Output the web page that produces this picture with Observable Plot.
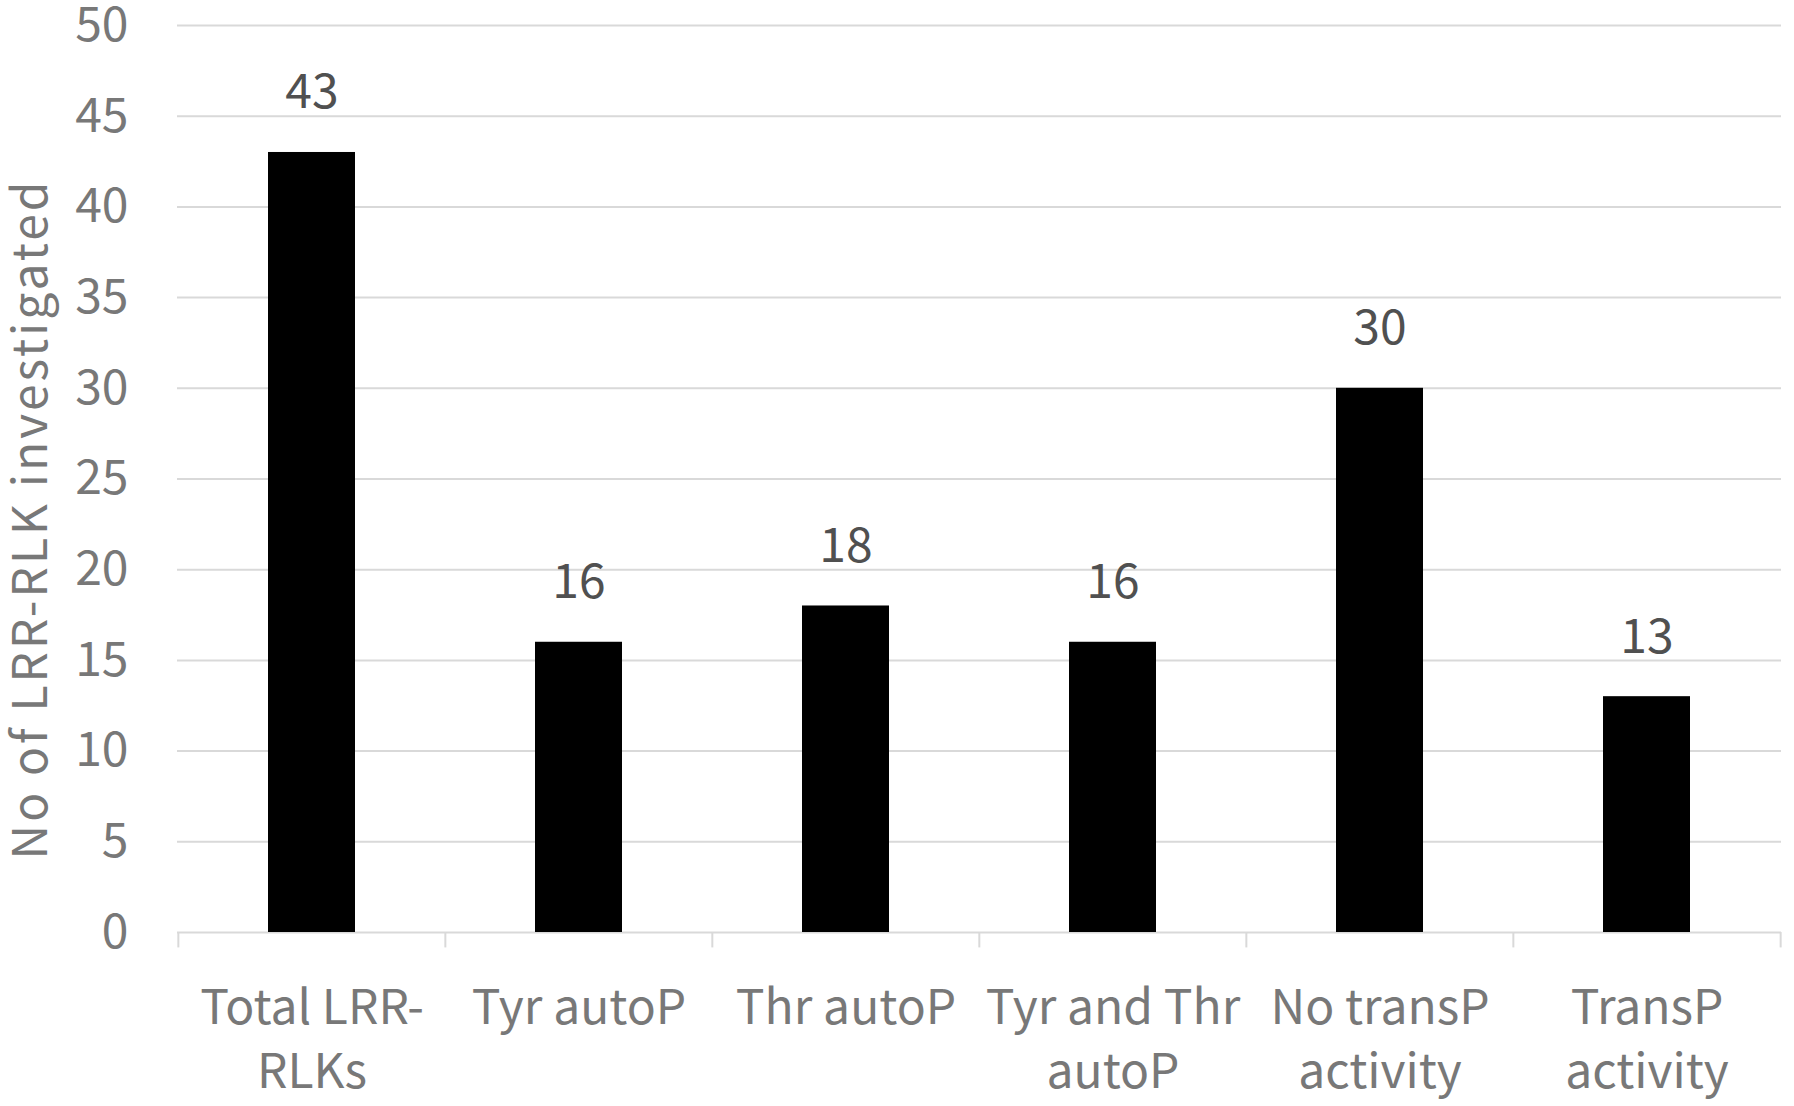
<!DOCTYPE html>
<html>
<head>
<meta charset="utf-8">
<script src="https://cdn.jsdelivr.net/npm/d3@7"></script>
<script src="https://cdn.jsdelivr.net/npm/@observablehq/plot@0.6"></script>
<style>
  html, body { margin: 0; padding: 0; background: #fff; }
  .ytitle text { letter-spacing: 3px; }
</style>
</head>
<body>
<div id="chart"></div>
<script>
const categories = ["Total LRR-RLKs", "Tyr autoP", "Thr autoP", "Tyr and Thr autoP", "No transP activity", "TransP activity"];
const categoryLabels = ["Total LRR-\nRLKs", "Tyr autoP", "Thr autoP", "Tyr and Thr\nautoP", "No transP\nactivity", "TransP\nactivity"];
const counts = [43, 16, 18, 16, 30, 13];
const yTicks = [0, 5, 10, 15, 20, 25, 30, 35, 40, 45, 50];
const yTitle = "No of LRR-RLK investigated";

const data = categories.map((c, i) => ({category: c, count: counts[i]}));

const W = 1794, H = 1106;
const mL = 177, mR = 13, mT = 25, mB = 174;
const step = (W - mL - mR) / categories.length;
const font = "'Noto Sans CJK KR', 'Noto Sans', sans-serif";

const chart = Plot.plot({
  width: W,
  height: H,
  marginLeft: mL,
  marginRight: mR,
  marginTop: mT,
  marginBottom: mB,
  style: {fontFamily: font, fontSize: "48px", background: "white"},
  x: {domain: categories, paddingInner: 0.675, paddingOuter: 0.3375, label: null},
  y: {domain: [0, 50], label: null},
  marks: [
    Plot.gridY(yTicks, {stroke: "#d9d9d9", strokeWidth: 2, strokeOpacity: 1}),
    Plot.ruleX(categories, {x: d => d, dx: -step / 2, y1: 0, y2: -0.85, stroke: "#d9d9d9", strokeWidth: 2}),
    Plot.ruleX(categories.slice(-1), {x: d => d, dx: step / 2, y1: 0, y2: -0.85, stroke: "#d9d9d9", strokeWidth: 2}),
    Plot.barY(data, {x: "category", y: "count", fill: "#000"}),
    Plot.text(data, {x: "category", y: "count", text: d => String(d.count), dy: -44, lineAnchor: "bottom", fill: "#505050", fontSize: 48}),
    Plot.axisY(yTicks, {tickSize: 0, tickPadding: 49, color: "#787878", fontSize: 48, label: null}),
    Plot.axisX({tickSize: 0, tickPadding: 45, color: "#787878", fontSize: 48, lineHeight: 1.35, label: null,
      tickFormat: d => categoryLabels[categories.indexOf(d)]}),
    Plot.text([yTitle], {text: d => d, frameAnchor: "left", textAnchor: "middle", rotate: -90, dx: -146, dy: 40, fill: "#787878", fontSize: 48, className: "ytitle"})
  ]
});

document.getElementById("chart").appendChild(chart);
</script>
</body>
</html>
